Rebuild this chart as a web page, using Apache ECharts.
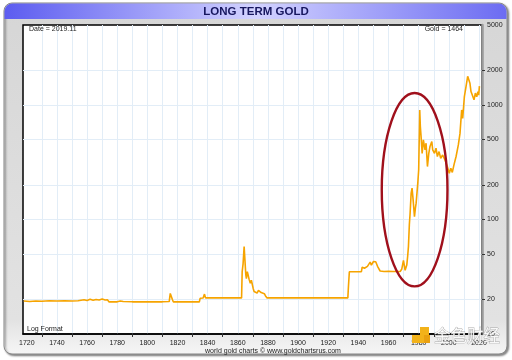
<!DOCTYPE html>
<html><head><meta charset="utf-8">
<script src="https://cdn.jsdelivr.net/npm/echarts@6/dist/echarts.min.js"></script>
<style>html,body{margin:0;padding:0;background:#fff}#c{width:512px;height:360px}</style>
</head><body><div id="c"></div>
<script>
const years = [1718,1722,1726,1730,1735,1740,1745,1750,1754,1758,1760,1762,1764,1766,1768,1770,1772,1773.5,1774.5,1780,1782,1784,1790,1800,1810,1814.5,1815.2,1815.9,1816.6,1817.2,1825,1834.5,1835,1837,1837.9,1838.6,1862.5,1862.9,1863.5,1864.2,1864.7,1865.3,1865.7,1866.3,1866.8,1867.5,1868.3,1869,1869.5,1870.2,1870.8,1872,1872.8,1873.7,1874.5,1875.5,1876.7,1877.6,1878.3,1879.4,1933,1933.4,1934,1942,1942.5,1944,1946,1947.8,1948.6,1950,1951.5,1952.7,1954.4,1957,1960,1961,1963,1967.7,1968.8,1969.9,1971,1972.1,1972.7,1973.2,1973.8,1974.3,1975,1975.6,1976.3,1977.2,1977.8,1978.3,1979.4,1980,1980.7,1981.1,1981.6,1982.3,1983.1,1984.2,1984.9,1985.8,1986.7,1987.5,1988.7,1989.3,1990.5,1991.5,1992.4,1993.5,1994.6,1995.9,1997.5,1999,2000.3,2001.3,2002.3,2003.4,2004.8,2006.3,2007.4,2008.5,2009.2,2010.3,2011.4,2012.5,2013.2,2014,2014.7,2015.5,2016.7,2017.6,2018.5,2019.3,2019.8,2020.3];
const gold = [19.4,19.2,19.4,19.3,19.5,19.4,19.5,19.4,19.5,19.9,19.6,20.1,19.7,20.0,19.8,20.2,19.8,19.9,19.1,19.1,19.4,19.2,19.1,19.1,19.1,19.2,22.6,22.1,20.0,19.1,19.1,19.1,20.5,20.6,22.3,20.67,20.67,35,41,58,45,33,30.5,35,33,30,27.8,29.5,30.2,25,23.5,24,22.8,24,24.2,23,23.6,22.5,21.6,20.67,20.67,26,35,35,38.4,37.5,39,42.4,40,43,42.8,39,35.5,35.2,35.3,35.8,35.1,35.1,37,44,36,40,48,58,90,113,170,188,149,106,125,139,208,272,906,650,528,378,496,405,464,290,378,435,480,405,378,420,355,392,343,366,330,290,254,280,258,300,355,448,565,906,765,1185,1450,1780,1830,1550,1310,1270,1110,1270,1180,1310,1220,1464];
const xLabelYears = [1720,1740,1760,1780,1800,1820,1840,1860,1880,1900,1920,1940,1960,1980,2000,2020];
const xGridYears = [1730,1740,1750,1760,1770,1780,1790,1800,1810,1820,1830,1840,1850,1860,1870,1880,1890,1900,1910,1920,1930,1940,1950,1960,1970,1980,1990,2000,2010,2020];
const xTickYears = [1730,1750,1770,1790,1810,1830,1850,1870,1890,1910,1930,1950,1970,1990,2010];
const yLabels = [10,20,50,100,200,500,1000,2000,5000];
const yGrid = [20,50,100,200,500,1000,2000];
const ellipseCenter = [1977.3, 182];
const ellipseEdges = {left: 1955.5, right: 1999.1, top: 1270, bottom: 26};

const chart = echarts.init(document.getElementById('c'));
const font = 'Liberation Sans, Arial, sans-serif';
const seriesData = years.map((y, i) => [y, gold[i]]);
const plain = v => String(Math.round(v));

chart.setOption({
  animation: false,
  backgroundColor: '#fff',
  grid: {left: 23, right: 30, top: 25, bottom: 26, show: true, backgroundColor: '#fff', borderColor: '#000', borderWidth: 1.5, z: 1},
  xAxis: [{
    type: 'value', min: 1717.5, max: 2022, position: 'bottom', z: 3,
    axisLine: {show: true, onZero: false, lineStyle: {color: '#000', width: 1.5}},
    axisTick: {show: false, customValues: xGridYears},
    splitLine: {show: true, lineStyle: {color: '#e2edf7', width: 1}},
    axisLabel: {customValues: xLabelYears, formatter: plain, fontSize: 7, color: '#222', margin: 6, fontFamily: font}
  }, {
    type: 'value', min: 1717.5, max: 2022, position: 'bottom', z: 3,
    axisLine: {show: false},
    axisTick: {show: true, customValues: xTickYears, length: 3, lineStyle: {color: '#333', width: 1}},
    splitLine: {show: false},
    axisLabel: {show: false}
  }],
  yAxis: {
    type: 'log', logBase: 10, min: 10, max: 5000, position: 'right', z: 3,
    axisLine: {show: true, lineStyle: {color: '#9a9a9a', width: 2.5}},
    axisTick: {show: true, customValues: yGrid, length: 3, lineStyle: {color: '#333'}},
    splitLine: {show: true, lineStyle: {color: '#e2edf7', width: 1}},
    axisLabel: {customValues: yLabels, formatter: plain, showMinLabel: true, showMaxLabel: true, fontSize: 7, color: '#222', margin: 5, fontFamily: font}
  },
  series: [{
    type: 'line', xAxisIndex: 0, data: seriesData, showSymbol: false, z: 5,
    lineStyle: {color: '#f6a400', width: 1.6}
  }]
});

const c = chart.convertToPixel({gridIndex: 0}, ellipseCenter);
const l = chart.convertToPixel({gridIndex: 0}, [ellipseEdges.left, ellipseCenter[1]]);
const r = chart.convertToPixel({gridIndex: 0}, [ellipseEdges.right, ellipseCenter[1]]);
const t = chart.convertToPixel({gridIndex: 0}, [ellipseCenter[0], ellipseEdges.top]);
const b = chart.convertToPixel({gridIndex: 0}, [ellipseCenter[0], ellipseEdges.bottom]);

chart.setOption({
  graphic: [
    {type: 'rect', z: -100, silent: true,
     shape: {x: 4, y: 3, width: 503, height: 351, r: 8},
     style: {fill: new echarts.graphic.LinearGradient(0, 0, 0, 1, [{offset: 0, color: '#d6d6d6'}, {offset: 0.9, color: '#e2e2e2'}, {offset: 1, color: '#f6f6f6'}]),
             stroke: '#8a8a8a', lineWidth: 1, shadowColor: 'rgba(0,0,0,0.45)', shadowBlur: 2, shadowOffsetX: 1.5, shadowOffsetY: 1.5}},
    {type: 'rect', z: -99, silent: true,
     shape: {x: 4.5, y: 3.5, width: 502, height: 15.5, r: [8, 8, 0, 0]},
     style: {fill: new echarts.graphic.LinearGradient(0, 0, 1, 0, [{offset: 0, color: '#5c5cf0'}, {offset: 0.5, color: '#d2d2ff'}, {offset: 1, color: '#6c6cf2'}])}},
    {type: 'text', z: 10, silent: true, x: 256, y: 11.5,
     style: {text: 'LONG TERM GOLD', fontSize: 11.5, fontWeight: 'bold', fontFamily: font, fill: '#16165e', align: 'center', verticalAlign: 'middle'}},
    {type: 'text', z: 10, silent: true, x: 29, y: 29.5,
     style: {text: 'Date = 2019.11', fontSize: 7, fontFamily: font, fill: '#222', align: 'left', verticalAlign: 'middle'}},
    {type: 'text', z: 10, silent: true, x: 463, y: 29.5,
     style: {text: 'Gold = 1464', fontSize: 7, fontFamily: font, fill: '#222', align: 'right', verticalAlign: 'middle'}},
    {type: 'text', z: 10, silent: true, x: 27, y: 329,
     style: {text: 'Log Format', fontSize: 7, fontFamily: font, fill: '#222', align: 'left', verticalAlign: 'middle'}},
    {type: 'text', z: 10, silent: true, x: 273, y: 351.5,
     style: {text: 'world gold charts © www.goldchartsrus.com', fontSize: 7, fontFamily: font, fill: '#222', align: 'center', verticalAlign: 'middle'}},
    {type: 'ellipse', z: 20, silent: true,
     shape: {cx: c[0], cy: c[1], rx: (r[0] - l[0]) / 2, ry: (b[1] - t[1]) / 2},
     style: {fill: 'none', stroke: '#a0101c', lineWidth: 2.4}},
    {type: 'rect', z: 30, silent: true, shape: {x: 412, y: 335, width: 12, height: 8}, style: {fill: '#f2b21a'}},
    {type: 'rect', z: 30, silent: true, shape: {x: 420, y: 327, width: 9, height: 8}, style: {fill: '#f2b21a'}},
    {type: 'rect', z: 30, silent: true, shape: {x: 424, y: 335, width: 6, height: 8}, style: {fill: '#e9a010'}},
    {type: 'text', z: 30, silent: true, x: 434, y: 336,
     style: {text: '金色财经', fontSize: 16.5, fontFamily: 'Noto Sans CJK SC', fill: 'rgba(255,255,255,0.9)', stroke: 'rgba(150,150,150,0.8)', lineWidth: 0.8, align: 'left', verticalAlign: 'middle'}}
  ]
});
</script></body></html>
